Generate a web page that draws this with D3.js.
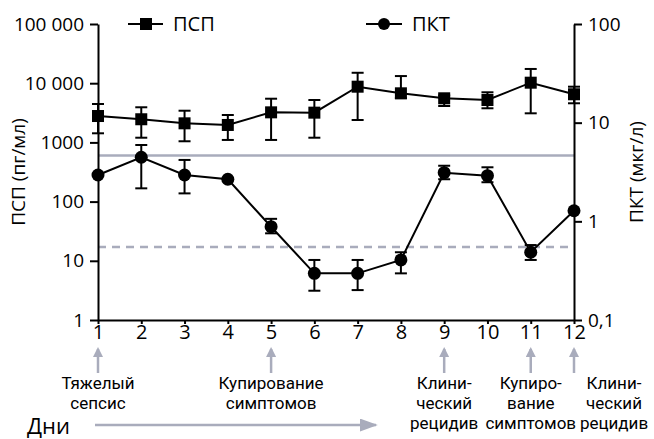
<!DOCTYPE html>
<html>
<head>
<meta charset="utf-8">
<script src="https://cdn.jsdelivr.net/npm/d3@7"></script>
<style>
  body { margin: 0; background: #fff; }
  svg { font-family: "Open Sans", sans-serif; }
</style>
</head>
<body>
<svg width="654" height="439"></svg>
<script>
// дни наблюдения
const days = [1, 2, 3, 4, 5, 6, 7, 8, 9, 10, 11, 12];

// ПСП (пг/мл) - среднее и границы
const psp   = [2790, 2460, 2100, 1970, 3220, 3180, 8730, 6750, 5560, 5200, 10200, 6500];
const pspHi = [4450, 3920, 3430, 2900, 5470, 5200, 15000, 13200, 6200, 7020, 17400, 8730];
const pspLo = [1425, 1200, 1045, 1100, 1100, 1200, 2390, 5600, 4120, 3770, 3100, 4580];

// ПКТ (мкг/л)
const pct   = [2.95, 4.46, 2.95, 2.67, 0.882, 0.297, 0.297, 0.406, 3.11, 2.90, 0.486, 1.28];
const pctHi = [null, 5.94, 4.19, null, 1.06, 0.406, 0.406, 0.486, 3.66, 3.53, 0.575, null];
const pctLo = [null, 2.16, 1.92, null, 0.756, 0.198, 0.201, 0.297, 2.67, 2.49, 0.406, null];

// пороговые линии
const pspCutoff = 600;   // сплошная
const pctCutoff = 0.55;  // пунктир

const leftTicks = [1, 10, 100, 1000, 10000, 100000];
const leftTickLabels = ["1", "10", "100", "1000", "10 000", "100 000"];
const rightTicks = [0.1, 1, 10, 100];
const rightTickLabels = ["0,1", "1", "10", "100"];

const eventDays = [1, 5, 9, 11, 12];
const eventLabels = [
  ["Тяжелый", "сепсис"],
  ["Купирование", "симптомов"],
  ["Клини-", "ческий", "рецидив"],
  ["Купиро-", "вание", "симптомов"],
  ["Клини-", "ческий", "рецидив"]
];

const gray = "#a9acbc";
const svg = d3.select("svg");

const x = d3.scaleLinear().domain([1, 12]).range([98, 574]);
const yL = d3.scaleLog().domain([1, 100000]).range([320, 24]);
const yR = d3.scaleLog().domain([0.1, 100]).range([320, 24]);

// пороги
svg.append("line")
  .attr("x1", x(1)).attr("x2", x(12))
  .attr("y1", yL(pspCutoff)).attr("y2", yL(pspCutoff))
  .attr("stroke", gray).attr("stroke-width", 2.5);
svg.append("line")
  .attr("x1", x(1)).attr("x2", x(12))
  .attr("y1", yR(pctCutoff)).attr("y2", yR(pctCutoff))
  .attr("stroke", gray).attr("stroke-width", 2.5)
  .attr("stroke-dasharray", "8,6");

// оси
const styleAxis = (g, size) => {
  g.selectAll("path, line").attr("stroke", "#000").attr("stroke-width", 2);
  g.selectAll("text").attr("font-size", size).attr("fill", "#000").attr("font-family", "Open Sans");
};

svg.append("g")
  .attr("transform", "translate(98,0)")
  .call(d3.axisLeft(yL).tickValues(leftTicks)
    .tickFormat((d, i) => leftTickLabels[i]).tickSize(8).tickPadding(6).tickSizeOuter(0))
  .call(g => styleAxis(g, 19));

svg.append("g")
  .attr("transform", "translate(574,0)")
  .call(d3.axisRight(yR).tickValues(rightTicks)
    .tickFormat((d, i) => rightTickLabels[i]).tickSize(8).tickPadding(6).tickSizeOuter(0))
  .call(g => styleAxis(g, 19));

svg.append("g")
  .attr("transform", "translate(0,320)")
  .call(d3.axisBottom(x).tickValues(days).tickFormat(d3.format("d"))
    .tickSize(4).tickPadding(1).tickSizeOuter(0))
  .call(g => styleAxis(g, 20));

// подписи осей
svg.append("text")
  .attr("transform", `translate(25,${(24 + 320) / 2}) rotate(-90)`)
  .attr("text-anchor", "middle").attr("font-size", 19)
  .text("ПСП (пг/мл)");
svg.append("text")
  .attr("transform", `translate(643,${(24 + 320) / 2}) rotate(-90)`)
  .attr("text-anchor", "middle").attr("font-size", 19)
  .text("ПКТ (мкг/л)");

// планки погрешностей
const cap = 6;
const errBar = (xv, hi, lo, scale) => {
  const g = svg.append("g").attr("stroke", "#000").attr("stroke-width", 2);
  g.append("line").attr("x1", x(xv)).attr("x2", x(xv)).attr("y1", scale(hi)).attr("y2", scale(lo));
  g.append("line").attr("x1", x(xv) - cap).attr("x2", x(xv) + cap).attr("y1", scale(hi)).attr("y2", scale(hi));
  g.append("line").attr("x1", x(xv) - cap).attr("x2", x(xv) + cap).attr("y1", scale(lo)).attr("y2", scale(lo));
};
days.forEach((d, i) => errBar(d, pspHi[i], pspLo[i], yL));
days.forEach((d, i) => { if (pctHi[i] != null) errBar(d, pctHi[i], pctLo[i], yR); });

// линии
svg.append("path")
  .attr("d", d3.line().x((d, i) => x(days[i])).y(d => yL(d))(psp))
  .attr("fill", "none").attr("stroke", "#000").attr("stroke-width", 2);
svg.append("path")
  .attr("d", d3.line().x((d, i) => x(days[i])).y(d => yR(d))(pct))
  .attr("fill", "none").attr("stroke", "#000").attr("stroke-width", 2);

const sq = 12;
svg.append("g").selectAll("rect")
  .data(psp)
  .join("rect")
  .attr("x", (d, i) => x(days[i]) - sq / 2)
  .attr("y", d => yL(d) - sq / 2)
  .attr("width", sq).attr("height", sq)
  .attr("fill", "#000");

svg.append("g").selectAll("circle")
  .data(pct)
  .join("circle")
  .attr("cx", (d, i) => x(days[i]))
  .attr("cy", d => yR(d))
  .attr("r", 6.5)
  .attr("fill", "#000");

// легенда
const leg = svg.append("g").attr("font-size", 20);
leg.append("line").attr("x1", 128).attr("x2", 163).attr("y1", 24).attr("y2", 24)
  .attr("stroke", "#000").attr("stroke-width", 2);
leg.append("rect").attr("x", 140).attr("y", 18).attr("width", sq).attr("height", sq).attr("fill", "#000");
leg.append("text").attr("x", 173).attr("y", 31).text("ПСП");
leg.append("line").attr("x1", 366).attr("x2", 402).attr("y1", 24).attr("y2", 24)
  .attr("stroke", "#000").attr("stroke-width", 2);
leg.append("circle").attr("cx", 384).attr("cy", 24).attr("r", 6).attr("fill", "#000");
leg.append("text").attr("x", 412).attr("y", 31).text("ПКТ");

// события
const defs = svg.append("defs");
defs.append("marker")
  .attr("id", "head").attr("viewBox", "0 0 10 10")
  .attr("refX", 8).attr("refY", 5)
  .attr("markerWidth", 10).attr("markerHeight", 10)
  .attr("markerUnits", "userSpaceOnUse")
  .attr("orient", "auto")
  .append("path").attr("d", "M0,0 L10,5 L0,10 Z").attr("fill", gray);

eventDays.forEach((d, i) => {
  svg.append("line")
    .attr("x1", x(d)).attr("x2", x(d)).attr("y1", 373).attr("y2", 349)
    .attr("stroke", gray).attr("stroke-width", 2.5)
    .attr("marker-end", "url(#head)");
  const tx = d === 12 ? x(d) + 40 : x(d);
  eventLabels[i].forEach((s, j) => {
    svg.append("text")
      .attr("x", tx).attr("y", 389 + j * 20)
      .attr("text-anchor", "middle")
      .attr("font-family", "Roboto").attr("font-size", 17)
      .text(s);
  });
});

// ось дней
svg.append("text").attr("x", 27).attr("y", 434).attr("font-size", 22).text("Дни");
defs.append("marker")
  .attr("id", "bighead").attr("viewBox", "0 0 10 10")
  .attr("refX", 9).attr("refY", 5)
  .attr("markerWidth", 18).attr("markerHeight", 13)
  .attr("markerUnits", "userSpaceOnUse")
  .attr("orient", "auto").attr("preserveAspectRatio", "none")
  .append("path").attr("d", "M0,0 L10,5 L0,10 Z").attr("fill", gray);
svg.append("line")
  .attr("x1", 95).attr("x2", 376).attr("y1", 425).attr("y2", 425)
  .attr("stroke", gray).attr("stroke-width", 2.5)
  .attr("marker-end", "url(#bighead)");
</script>
</body>
</html>
